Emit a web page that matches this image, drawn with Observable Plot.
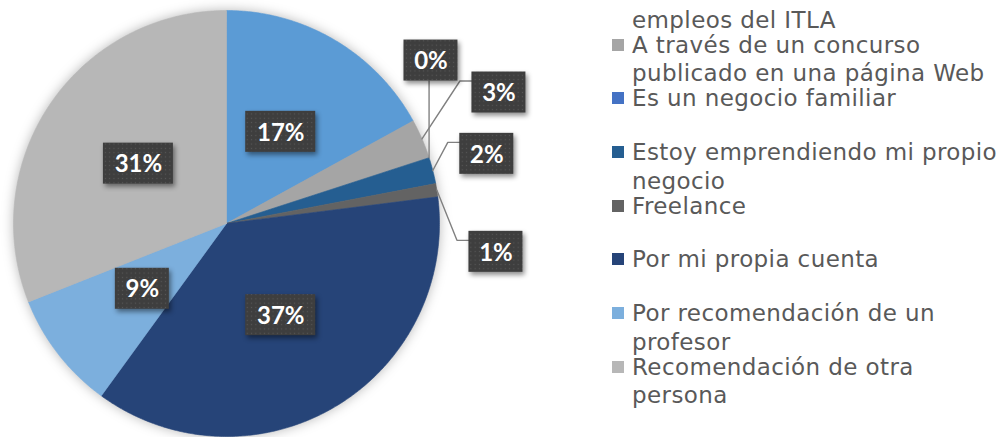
<!DOCTYPE html>
<html>
<head>
<meta charset="utf-8">
<script src="https://cdn.jsdelivr.net/npm/d3@7"></script>
<script src="https://cdn.jsdelivr.net/npm/@observablehq/plot@0.6"></script>
<style>
  html, body { margin: 0; padding: 0; background: #fff; }
  #wrap { position: relative; width: 999px; height: 437px; overflow: hidden; background: #fff; }
  #chart { position: absolute; left: 0; top: 0; }
  #legend { position: absolute; left: 612px; top: -23px; }
  .item { position: relative; height: 53.7px; }
  .swatch { position: absolute; left: 0; top: 8px; width: 12px; height: 12px; }
  .ltext { position: absolute; left: 20px; top: 0; width: 372px; font-family: "DejaVu Sans", sans-serif;
           font-size: 23px; line-height: 28.5px; letter-spacing: 0.4px; color: #595959; white-space: normal; }
</style>
</head>
<body>
<div id="wrap"><div id="chart"></div><div id="legend"></div></div>
<script>
// ---- data ----
const categories = [
  "A través de la bolsa de empleos del ITLA",
  "A través de un concurso publicado en una página Web",
  "Es un negocio familiar",
  "Estoy emprendiendo mi propio negocio",
  "Freelance",
  "Por mi propia cuenta",
  "Por recomendación de un profesor",
  "Recomendación de otra persona"
];
const values = [17, 3, 0, 2, 1, 37, 9, 31];
const colors = ["#5B9BD5", "#A5A5A5", "#4472C4", "#255E91", "#636363", "#264478", "#7CAFDD", "#B7B7B7"];

// ---- layout (not data) ----
const R = 213;              // pie radius in px
const CX = 226, CY = 223;   // pie centre in px
// outside label box centres, in pie units (1 = radius); leader style
const outside = {
  2: {cx: 0.960, cy: 0.765, leader: "up"},
  1: {cx: 1.279, cy: 0.615, leader: "left"},
  3: {cx: 1.222, cy: 0.327, leader: "left"},
  4: {cx: 1.265, cy: -0.133, leader: "left"}
};

const total = d3.sum(values);
const arcs = d3.pie().sort(null).value(d => d)(values);

// slice polygons
const slicePts = [];
arcs.forEach((a, i) => {
  if (a.endAngle - a.startAngle <= 0) return;
  const n = Math.max(2, Math.ceil((a.endAngle - a.startAngle) / (Math.PI / 360)));
  slicePts.push({cat: categories[i], x: 0, y: 0});
  for (let k = 0; k <= n; k++) {
    const t = a.startAngle + (a.endAngle - a.startAngle) * k / n;
    slicePts.push({cat: categories[i], x: Math.sin(t), y: Math.cos(t)});
  }
  slicePts.push({cat: categories[i], x: 0, y: 0});
});

// labels
const labels = arcs.map((a, i) => {
  const mid = (a.startAngle + a.endAngle) / 2;
  const text = Math.round(values[i] / total * 100) + "%";
  const hw = (22 + 16 * text.length) / 2 / R;
  const hh = 20.5 / R;
  let cx, cy;
  if (outside[i]) { cx = outside[i].cx; cy = outside[i].cy; }
  else { cx = 0.5 * Math.sin(mid); cy = 0.5 * Math.cos(mid); }
  return {i, text, mid, cx, cy, x1: cx - hw, x2: cx + hw, y1: cy - hh, y2: cy + hh};
});

// leader lines
const leaderPts = [];
labels.forEach(l => {
  const o = outside[l.i];
  if (!o) return;
  const ax = Math.sin(l.mid), ay = Math.cos(l.mid);
  leaderPts.push({k: l.i, x: ax, y: ay});
  if (o.leader === "up") {
    leaderPts.push({k: l.i, x: ax, y: l.y1});
  } else {
    const yy = l.y2 - 9 / R;
    leaderPts.push({k: l.i, x: l.x1 - 12 / R, y: yy});
    leaderPts.push({k: l.i, x: l.x1, y: yy});
  }
});

const plot = Plot.plot({
  width: 999,
  height: 437,
  margin: 0,
  style: {background: "transparent", overflow: "visible"},
  x: {domain: [-1, 1], range: [CX - R, CX + R], axis: null},
  y: {domain: [-1, 1], range: [CY + R, CY - R], axis: null},
  color: {domain: categories, range: colors},
  marks: [
    Plot.line(slicePts, {x: "x", y: "y", z: "cat", fill: "cat", stroke: "cat", strokeWidth: 0.6, curve: "linear"}),
    Plot.line(leaderPts, {x: "x", y: "y", z: "k", stroke: "#808080", strokeWidth: 1.4, curve: "linear"}),
    Plot.rect(labels, {x1: "x1", x2: "x2", y1: "y1", y2: "y2", fill: "url(#dots)"}),
    Plot.text(labels, {x: "cx", y: "cy", text: "text", fill: "white", fontSize: 24, fontWeight: 700,
                       fontFamily: "Lato, 'DejaVu Sans', sans-serif", dy: 1})
  ]
});

const svg = d3.select(plot);
svg.insert("defs", ":first-child").html(
  `<pattern id="dots" width="4.3" height="4.3" patternUnits="userSpaceOnUse">
     <rect width="4.3" height="4.3" fill="#3e3e3e"/>
     <rect x="1.6" y="1.6" width="1.1" height="1.1" fill="#585858"/>
   </pattern>`);
const lineGroups = plot.querySelectorAll('g[aria-label="line"]');
if (lineGroups[0]) lineGroups[0].style.filter = "drop-shadow(0px 0px 6px rgba(0,0,0,0.28))";
const rectGroup = plot.querySelector('g[aria-label="rect"]');
if (rectGroup) rectGroup.style.filter = "drop-shadow(2px 3px 2.5px rgba(0,0,0,0.45))";

document.getElementById("chart").appendChild(plot);

// legend
const legend = d3.select("#legend");
categories.forEach((c, i) => {
  const it = legend.append("div").attr("class", "item");
  it.append("div").attr("class", "swatch").style("background", colors[i]);
  it.append("div").attr("class", "ltext").text(c);
});
</script>
</body>
</html>
